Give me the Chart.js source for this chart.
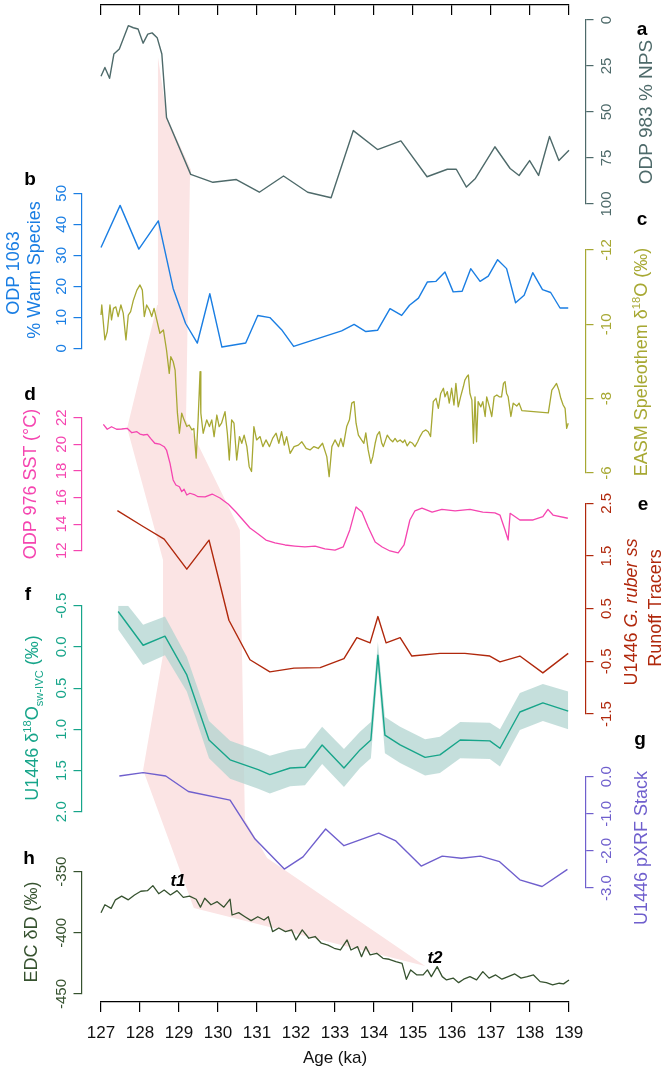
<!DOCTYPE html>
<html><head><meta charset="utf-8">
<script src="https://cdn.jsdelivr.net/npm/chart.js@4.4.1/dist/chart.umd.min.js"></script>
<style>
html,body{margin:0;padding:0;background:#fff}
#wrap{position:relative;width:666px;height:1071px;overflow:hidden;background:#fff;font-family:"Liberation Sans",Arial,sans-serif}
canvas{position:absolute;left:0;top:0}
.t{position:absolute;white-space:nowrap;line-height:1;transform:translate(-50%,-50%) rotate(-90deg);font-size:18px;z-index:5}
.l{position:absolute;transform:translate(-50%,-50%);font-weight:bold;font-size:19px;z-index:5;line-height:1;color:#000}
.tt{position:absolute;transform:translate(-50%,-50%);font-weight:bold;font-style:italic;font-size:17px;z-index:5;line-height:1;color:#000}
sup,sub{font-size:0.62em;line-height:0}
</style></head>
<body><div id="wrap">
<div class="t" style="left:645px;top:112px;color:#4e6a6a;font-size:19px">ODP 983 % NPS</div>
<div class="t" style="left:13px;top:273px;color:#1a7ee3">ODP 1063</div>
<div class="t" style="left:34px;top:270px;color:#1a7ee3">% Warm Species</div>
<div class="t" style="left:641px;top:362px;color:#a7a833">EASM Speleothem δ<sup>18</sup>O (‰)</div>
<div class="t" style="left:30px;top:484px;color:#f545b0">ODP 976 SST (°C)</div>
<div class="t" style="left:631px;top:612px;color:#b0280c">U1446 <i>G. ruber ss</i></div>
<div class="t" style="left:655px;top:608px;color:#b0280c">Runoff Tracers</div>
<div class="t" style="left:32px;top:718px;color:#17a58a">U1446 δ<sup>18</sup>O<sub>sw-IVC</sub> (‰)</div>
<div class="t" style="left:641px;top:848px;color:#6f5fcd">U1446 pXRF Stack</div>
<div class="t" style="left:31px;top:932px;color:#36522f">EDC δD (‰)</div>
<div class="l" style="left:642px;top:28px">a</div>
<div class="l" style="left:30px;top:178px">b</div>
<div class="l" style="left:642px;top:218px">c</div>
<div class="l" style="left:30px;top:393px">d</div>
<div class="l" style="left:643px;top:503px">e</div>
<div class="l" style="left:28px;top:593px">f</div>
<div class="l" style="left:640px;top:738px">g</div>
<div class="l" style="left:29px;top:857px">h</div>
<div class="tt" style="left:178px;top:880px">t1</div>
<div class="tt" style="left:435px;top:957px">t2</div>
</div>
<script>
// ---------------- DATA ----------------
const ageTicks = [127,128,129,130,131,132,133,134,135,136,137,138,139];
const ageLabels = ['127','128','129','130','131','132','133','134','135','136','137','138','139'];

// a: ODP 983 % NPS
const npsAge = [127.00,127.10,127.22,127.33,127.47,127.70,127.83,127.95,128.08,128.20,128.31,128.44,128.56,128.68,129.30,129.87,130.47,131.06,131.68,132.30,132.90,133.47,134.09,134.69,135.36,135.88,136.11,136.37,136.60,137.10,137.49,137.72,137.99,138.22,138.50,138.74,139.00];
const npsVal = [30.6,25.8,31.7,18.5,15.8,3.1,4.2,4.9,12.6,7.7,7.0,9.6,18.5,53.0,83.9,88.2,86.7,93.6,84.8,93.6,96.6,60.1,70.4,65.7,85.2,81.1,81.1,90.8,86.1,68.9,80.7,84.5,76.4,84.5,63.3,76.4,70.8];
const npsTicks = [0,25,50,75,100];
const npsLabels = ['0','25','50','75','100'];

// b: ODP 1063 % warm species
const warmAge = [127.00,127.49,127.97,128.47,128.85,129.17,129.47,129.79,130.10,130.71,131.02,131.33,131.63,131.94,133.17,133.49,133.79,134.09,134.41,134.71,134.91,135.14,135.37,135.59,135.82,136.03,136.26,136.48,136.72,136.93,137.17,137.40,137.63,137.85,138.07,138.32,138.53,138.77,138.98];
const warmVal = [32.5,46.1,32.0,41.1,19.3,8.0,1.7,17.6,0.4,1.7,10.6,9.9,6.0,0.6,5.6,7.7,5.4,5.8,12.8,10.6,13.9,16.2,21.4,21.6,24.6,18.2,18.4,25.7,21.6,23.3,28.6,25.7,14.7,17.1,24.4,18.9,18.0,13.0,13.0];
const warmTicks = [0,10,20,30,40,50];
const warmLabels = ['0','10','20','30','40','50'];

// c: EASM speleothem d18O
const easmAge = [127.00,127.02,127.10,127.16,127.23,127.27,127.32,127.38,127.44,127.51,127.57,127.64,127.70,127.76,127.83,127.92,128.00,128.06,128.11,128.17,128.24,128.30,128.36,128.43,128.51,128.60,128.68,128.75,128.79,128.85,128.90,128.96,129.01,129.07,129.13,129.20,129.26,129.33,129.38,129.44,129.49,129.54,129.56,129.62,129.71,129.78,129.84,129.90,129.97,130.03,130.09,130.18,130.24,130.29,130.35,130.41,130.48,130.55,130.61,130.67,130.74,130.80,130.86,130.92,130.99,131.08,131.15,131.23,131.32,131.40,131.49,131.56,131.63,131.70,131.76,131.85,131.95,132.06,132.15,132.26,132.36,132.46,132.57,132.68,132.79,132.85,132.92,133.00,133.09,133.15,133.21,133.30,133.37,
133.43,133.49,133.54,133.60,133.68,133.74,133.79,133.85,133.92,133.97,134.03,134.08,134.14,134.20,134.24,134.34,134.41,134.48,134.54,134.60,134.67,134.74,134.79,134.85,134.92,134.99,135.05,135.12,135.18,135.25,135.33,135.39,135.45,135.52,135.59,135.65,135.71,135.78,135.82,135.88,135.93,135.99,136.05,136.10,136.16,136.22,136.29,136.33,136.38,136.42,136.46,136.51,136.55,136.59,136.63,136.67,136.74,136.79,136.85,136.89,136.96,137.02,137.08,137.15,137.21,137.27,137.32,137.36,137.40,137.44,137.51,137.57,137.66,137.72,137.79,138.47,138.56,138.62,138.68,138.74,138.79,138.85,138.90,138.94,138.98];
const easmVal = [-10.25,-10.52,-9.58,-9.80,-10.52,-10.12,-10.43,-10.47,-10.21,-10.52,-10.30,-9.58,-10.25,-10.34,-10.65,-10.92,-11.06,-10.92,-10.21,-10.52,-10.39,-10.21,-10.43,-10.12,-9.76,-9.85,-9.31,-8.68,-9.13,-9.00,-8.77,-7.61,-7.07,-7.61,-7.43,-7.25,-7.29,-7.16,-7.20,-6.40,-7.43,-8.73,-7.61,-7.07,-7.43,-7.25,-7.43,-6.98,-7.56,-7.25,-7.34,-7.65,-7.07,-6.35,-7.43,-7.34,-6.35,-6.98,-6.80,-7.02,-6.71,-6.17,-6.04,-7.25,-6.89,-6.98,-6.71,-6.89,-6.71,-6.93,-7.07,-6.80,-7.11,-6.75,-6.98,-6.53,-6.71,-6.75,-6.84,-6.66,-6.62,-6.71,-6.66,-6.80,-6.44,-5.90,-6.71,-6.89,-6.71,-6.93,-6.71,-7.25,-7.43,
-7.88,-7.92,-7.34,-7.02,-6.89,-6.80,-7.08,-6.62,-6.26,-6.44,-6.80,-7.02,-7.11,-6.80,-6.71,-7.02,-6.91,-6.84,-6.93,-6.84,-6.89,-6.82,-6.89,-6.73,-6.84,-6.80,-6.71,-6.84,-6.98,-7.11,-7.16,-7.11,-6.98,-7.92,-8.01,-7.74,-8.14,-8.28,-8.05,-8.19,-7.88,-8.28,-7.83,-8.41,-7.78,-8.05,-8.32,-8.50,-8.59,-8.64,-8.14,-7.96,-6.80,-8.05,-6.84,-7.92,-7.78,-7.92,-7.52,-8.05,-7.78,-7.52,-8.05,-8.10,-8.05,-8.05,-8.41,-8.46,-8.14,-8.05,-7.52,-7.88,-7.80,-7.88,-7.68,-7.62,-8.23,-8.32,-8.41,-8.23,-8.01,-7.83,-7.74,-7.20,-7.34];
const easmTicks = [-12,-10,-8,-6];
const easmLabels = ['-12','-10','-8','-6'];

// d: ODP 976 SST
const sstAge = [127.06,127.16,127.27,127.40,127.53,127.67,127.79,127.92,128.00,128.08,128.19,128.27,128.38,128.50,128.62,128.68,128.77,128.85,128.92,129.01,129.07,129.13,129.20,129.28,129.41,129.49,129.67,129.85,130.05,130.26,130.46,130.64,130.82,131.03,131.23,131.46,131.72,131.97,132.23,132.49,132.74,133.00,133.21,133.38,133.54,133.69,133.85,134.03,134.21,134.41,134.62,134.77,134.92,135.05,135.23,135.49,135.74,136.08,136.46,136.79,137.10,137.23,137.36,137.44,137.49,137.74,138.08,138.33,138.46,138.59,138.97];
const sstVal = [21.50,21.13,21.32,21.13,21.15,21.20,20.87,20.95,20.77,20.70,20.75,20.45,20.08,20.02,19.82,19.57,18.57,17.32,16.94,16.81,16.44,16.62,16.19,16.32,16.19,16.06,16.04,16.26,15.96,15.51,14.91,14.31,13.71,13.26,12.80,12.58,12.43,12.35,12.28,12.35,12.13,12.05,12.28,13.56,15.29,14.91,13.78,12.65,12.28,11.98,11.83,12.43,14.31,15.00,15.20,14.90,15.10,15.00,15.10,14.90,14.85,14.68,13.56,12.80,14.81,14.31,14.31,14.56,15.11,14.68,14.44];
const sstTicks = [12,14,16,18,20,22];
const sstLabels = ['12','14','16','18','20','22'];

// e: U1446 G. ruber ss runoff tracers
const runoffAge = [127.42,128.08,128.62,129.20,129.77,130.28,130.82,131.33,131.95,132.62,133.23,133.56,133.90,134.10,134.31,134.67,134.97,135.69,136.33,136.97,137.23,137.74,138.33,138.98];
const runoffVal = [2.36,2.06,1.82,1.25,1.80,0.28,-0.47,-0.70,-0.63,-0.62,-0.45,-0.05,-0.15,0.35,-0.15,-0.05,-0.40,-0.35,-0.35,-0.40,-0.51,-0.40,-0.72,-0.35];
const runoffTicks = [-1.5,-0.5,0.5,1.5,2.5];
const runoffLabels = ['-1.5','-0.5','0.5','1.5','2.5'];

// f: U1446 d18Osw-IVC with uncertainty envelope
const swAge = [127.44,128.08,128.64,129.20,129.77,130.31,131.03,131.33,131.85,132.23,132.67,133.23,133.64,133.92,134.10,134.28,134.67,135.31,135.69,136.21,136.97,137.23,137.74,138.33,138.98];
const swVal = [-0.43,-0.02,-0.13,0.34,1.13,1.37,1.49,1.55,1.47,1.46,1.19,1.47,1.25,1.13,0.10,1.07,1.19,1.34,1.31,1.13,1.14,1.23,0.79,0.68,0.78];
const swLow = [-0.65,-0.27,-0.37,0.12,0.90,1.14,1.26,1.32,1.25,1.23,0.97,1.24,1.03,0.91,-0.06,0.85,0.97,1.12,1.09,0.91,0.92,1.00,0.56,0.45,0.54];
const swHigh = [-0.21,0.22,0.10,0.54,1.35,1.60,1.72,1.78,1.69,1.68,1.42,1.70,1.47,1.35,0.27,1.29,1.41,1.56,1.53,1.35,1.36,1.45,1.01,0.90,1.00];
const swTicks = [-0.5,0,0.5,1,1.5,2];
const swLabels = ['-0.5','0.0','0.5','1.0','1.5','2.0'];

// g: U1446 pXRF stack
const pxrfAge = [127.47,128.08,128.66,129.24,130.31,130.95,131.70,132.18,132.76,133.23,134.12,134.56,135.21,135.75,136.24,136.73,137.22,137.74,138.31,138.96];
const pxrfVal = [0.02,0.11,0.02,-0.40,-0.63,-1.68,-2.49,-2.16,-1.41,-1.86,-1.52,-1.73,-2.41,-2.14,-2.20,-2.14,-2.29,-2.78,-2.96,-2.50];
const pxrfTicks = [-3,-2,-1,0];
const pxrfLabels = ['-3.0','-2.0','-1.0','0.0'];

// h: EDC dD
const edcAge = [127.00,127.10,127.26,127.37,127.53,127.70,127.86,128.02,128.19,128.33,128.48,128.62,128.78,128.95,129.11,129.27,129.44,129.55,129.66,129.82,129.98,130.15,130.31,130.36,130.53,130.69,130.85,131.02,131.18,131.29,131.40,131.56,131.73,131.89,132.00,132.16,132.33,132.49,132.65,132.82,132.98,133.14,133.31,133.41,133.58,133.68,133.79,133.90,134.07,134.23,134.39,134.56,134.72,134.83,134.94,135.10,135.26,135.37,135.47,135.62,135.75,135.86,136.03,136.17,136.30,136.46,136.63,136.79,136.95,137.12,137.28,137.44,137.61,137.77,137.93,138.09,138.26,138.42,138.58,138.75,138.86,139.00];
const edcVal = [-383.5,-377,-380,-373,-370,-373,-369,-366,-365.5,-361.4,-368,-365,-369,-365.5,-371,-370,-372.5,-379,-371.7,-377,-374.5,-379,-372.5,-385.4,-383.5,-386.8,-390,-386.8,-389.5,-386.8,-399,-396,-399,-397.6,-405.8,-397.6,-404.4,-403,-408.5,-410,-412.6,-414,-405.8,-414,-411.3,-419.5,-411.3,-418,-416.7,-420.8,-421.6,-423.5,-424.9,-438,-430.3,-434.4,-434.4,-430.3,-435.8,-427.6,-435.8,-438.5,-437,-440.7,-437.9,-435.8,-438.5,-431.7,-437,-434.4,-437.9,-435.8,-433.6,-437,-435.8,-434.4,-439.9,-440.7,-442.6,-441.2,-441.7,-438.5];
const edcTicks = [-450,-400,-350];
const edcLabels = ['-450','-400','-350'];

// shaded transition band (age, figure depth from top)
const bandAge = [128.46,128.69,129.31,129.28,129.18,130.56,130.69,131.26,135.31,129.38,128.08,128.59,128.59,127.67,128.44,128.46];
const bandDepth = [57,117,170,180,420,530,820,858,966,908,770,655,560,428,305,57];

// ---------------- LAYOUT ----------------
const W = 666, H = 1071;
const FONT = '"Liberation Sans", Arial, sans-serif';
const X_LEFT = 81.5, X_RIGHT = 585.5;
const X_MIN = 126.5, X_MAX = 127 + (X_RIGHT - 101) / 39;
const AXIS_W = 50;
Chart.defaults.font.family = FONT;

const wrap = document.getElementById('wrap');
function mkCanvas() {
  const c = document.createElement('canvas');
  c.width = W; c.height = H;
  c.style.width = W + 'px'; c.style.height = H + 'px';
  wrap.appendChild(c);
  return c;
}
const common = {
  responsive: false, animation: false, devicePixelRatio: 1, events: [],
  plugins: { legend: { display: false }, tooltip: { enabled: false } }
};
const xy = (a, v) => a.map((x, i) => ({ x: x, y: v[i] }));
const mctx = document.createElement('canvas').getContext('2d');
function labelPad(labels, size, offset, tl) {
  mctx.font = size + 'px ' + FONT;
  const w = Math.max(...labels.map(l => mctx.measureText(l).width));
  return offset - tl - w / 2;
}
function lineDs(a, v, color, extra) {
  return Object.assign({ data: xy(a, v), borderColor: color, borderWidth: 1.4, pointRadius: 0,
    tension: 0, fill: false, clip: false, borderJoinStyle: 'round' }, extra || {});
}

// background band
new Chart(mkCanvas(), {
  type: 'line',
  data: { datasets: [{ data: xy(bandAge, bandDepth), borderColor: 'rgba(0,0,0,0)', borderWidth: 0,
    backgroundColor: '#fbe4e4', fill: 'shape', pointRadius: 0, tension: 0 }] },
  options: Object.assign({}, common, {
    layout: { padding: { left: X_LEFT, right: W - X_RIGHT, top: 0, bottom: 0 } },
    scales: {
      x: { type: 'linear', display: false, min: X_MIN, max: X_MAX },
      y: { type: 'linear', display: false, min: 0, max: H, reverse: true }
    }
  })
});

// top axis
new Chart(mkCanvas(), {
  type: 'line', data: { datasets: [] },
  options: Object.assign({}, common, {
    layout: { padding: { left: 101, right: W - 569, top: 0, bottom: H - 5 - 10 } },
    scales: {
      x: { type: 'linear', position: 'bottom', min: 127, max: 139,
        afterBuildTicks: s => { s.ticks = ageTicks.map(v => ({ value: v })); },
        afterFit: s => { s.height = 10; s.paddingLeft = 0; s.paddingRight = 0; },
        grid: { display: true, drawOnChartArea: false, tickLength: 10, color: '#000', lineWidth: 1.2 },
        border: { display: true, color: '#000', width: 1.2 },
        ticks: { display: false } },
      y: { display: false }
    }
  })
});

// bottom axis
new Chart(mkCanvas(), {
  type: 'line', data: { datasets: [] },
  options: Object.assign({}, common, {
    layout: { padding: { left: 101, right: W - 569, top: 5, bottom: H - 1002 - 66.2 } },
    scales: {
      x: { type: 'linear', position: 'bottom', min: 127, max: 139,
        afterBuildTicks: s => { s.ticks = ageTicks.map(v => ({ value: v })); },
        afterFit: s => { s.height = 66.2; s.paddingLeft = 0; s.paddingRight = 0; },
        grid: { display: true, drawOnChartArea: false, tickLength: 10, color: '#000', lineWidth: 1.2 },
        border: { display: true, color: '#000', width: 1.2 },
        ticks: { color: '#111', font: { size: 17 }, padding: 10.8, autoSkip: false, maxRotation: 0,
          callback: (v, i) => ageLabels[i] },
        title: { display: true, text: 'Age (ka)', color: '#111', font: { size: 17 }, padding: 0 } },
      y: { display: false }
    }
  })
});

function panel(p) {
  const left = p.side === 'left';
  const tl = 8;
  const pad = labelPad(p.labels, 15, left ? 19.5 : 21.5, tl);
  new Chart(mkCanvas(), {
    type: 'line',
    data: { datasets: p.datasets },
    options: Object.assign({}, common, {
      layout: { padding: {
        left: left ? X_LEFT - AXIS_W : X_LEFT,
        right: left ? W - X_RIGHT : W - X_RIGHT - AXIS_W,
        top: p.top, bottom: H - p.bottom } },
      scales: {
        x: { type: 'linear', display: false, min: X_MIN, max: X_MAX },
        y: { type: 'linear', position: p.side, min: p.min, max: p.max, reverse: !!p.reverse,
          afterBuildTicks: s => { s.ticks = p.ticks.map(v => ({ value: v })); },
          afterFit: s => { s.width = AXIS_W; s.paddingTop = 0; s.paddingBottom = 0; },
          grid: { display: true, drawOnChartArea: false, drawTicks: true, tickLength: tl, color: p.color, lineWidth: 1.2 },
          border: { display: true, color: p.color, width: 1.2 },
          ticks: { color: p.color, font: { size: 15 }, minRotation: 90, maxRotation: 90, crossAlign: 'center',
            padding: pad, autoSkip: false, callback: (v, i) => p.labels[i] } }
      }
    })
  });
}

const C = { a: '#4e6a6a', b: '#1a7ee3', c: '#a7a833', d: '#f545b0', e: '#b0280c', f: '#17a58a', g: '#6f5fcd', h: '#36522f' };

panel({ side: 'right', top: 20, bottom: 204, min: 0, max: 100, reverse: true, ticks: npsTicks, labels: npsLabels, color: C.a,
  datasets: [lineDs(npsAge, npsVal, C.a)] });
panel({ side: 'left', top: 193.3, bottom: 348.3, min: 0, max: 50, ticks: warmTicks, labels: warmLabels, color: C.b,
  datasets: [lineDs(warmAge, warmVal, C.b)] });
panel({ side: 'right', top: 250, bottom: 473, min: -12, max: -6, reverse: true, ticks: easmTicks, labels: easmLabels, color: C.c,
  datasets: [lineDs(easmAge, easmVal, C.c, { borderWidth: 1.3 })] });
panel({ side: 'left', top: 417.7, bottom: 550.7, min: 12, max: 22, ticks: sstTicks, labels: sstLabels, color: C.d,
  datasets: [lineDs(sstAge, sstVal, C.d, { borderWidth: 1.3 })] });
panel({ side: 'right', top: 503.3, bottom: 714, min: -1.5, max: 2.5, ticks: runoffTicks, labels: runoffLabels, color: C.e,
  datasets: [lineDs(runoffAge, runoffVal, C.e)] });
panel({ side: 'left', top: 605.7, bottom: 811.7, min: -0.5, max: 2.0, reverse: true, ticks: swTicks, labels: swLabels, color: C.f,
  datasets: [
    lineDs(swAge, swVal, C.f, { order: 0 }),
    { data: xy(swAge, swLow), borderColor: 'rgba(0,0,0,0)', borderWidth: 0, pointRadius: 0, tension: 0,
      backgroundColor: 'rgba(178,212,208,0.75)', fill: '+1', clip: false, order: 1 },
    { data: xy(swAge, swHigh), borderColor: 'rgba(0,0,0,0)', borderWidth: 0, pointRadius: 0, tension: 0, fill: false, clip: false, order: 1 }
  ] });
panel({ side: 'right', top: 776.7, bottom: 888, min: -3, max: 0, ticks: pxrfTicks, labels: pxrfLabels, color: C.g,
  datasets: [lineDs(pxrfAge, pxrfVal, C.g)] });
panel({ side: 'left', top: 871.7, bottom: 994, min: -450, max: -350, ticks: edcTicks, labels: edcLabels, color: C.h,
  datasets: [lineDs(edcAge, edcVal, C.h, { borderWidth: 1.3 })] });
</script>
</body></html>
